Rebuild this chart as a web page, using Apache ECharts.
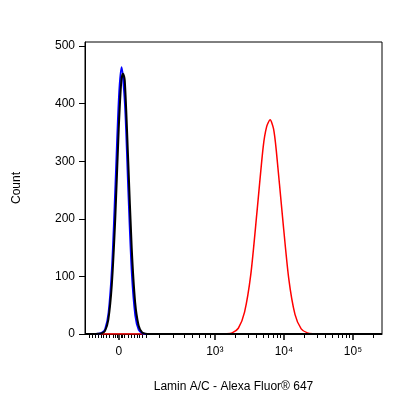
<!DOCTYPE html>
<html><head><meta charset="utf-8">
<script src="https://cdn.jsdelivr.net/npm/echarts@6/dist/echarts.min.js"></script>
<style>html,body{margin:0;padding:0;background:#fff}#c{width:416px;height:416px}</style>
</head><body><div id="c"></div>
<script>
// x in display (decade) units: 10^3 at 3, 10^4 at 4, 10^5 at 5; "0" at 1.61
const xTickVals = [1.61, 3, 4, 5];
const xTickLabels = ['0', '10³', '10⁴', '10⁵'];
const xMinorTicks = [1.18,1.22,1.27,1.31,1.35,1.39,1.43,1.47,1.53,1.56,1.58,1.64,1.66,1.69,1.75,1.79,1.83,1.87,1.91,1.95,2.0,2.2,2.4,2.55,2.68,2.78,2.86,2.93,
  3.30,3.48,3.60,3.70,3.78,3.85,3.90,3.95, 4.30,4.48,4.60,4.70,4.78,4.85,4.90,4.95, 5.30];
const yTicks = [0,100,200,300,400,500];

const blueX = [1.12,1.25,1.312,1.362,1.412,1.462,1.512,1.562,1.612,1.649,1.699,1.749,1.799,1.849,1.899,1.949,1.999,2.05,5.42];
const blueY = [0,0,0.5,2,8,37,117,260,411,463,399,245,105,32,7,1.5,0,0,0];
const blackX = [1.12,1.25,1.308,1.358,1.408,1.458,1.508,1.558,1.608,1.646,1.671,1.696,1.746,1.796,1.846,1.896,1.946,1.996,2.046,2.1,5.42];
const blackY = [0,0,0.3,1,5,25,85,200,355,440,452,440,300,150,55,15,3,0.5,0,0,0];
const redX = [1.12,3.07,3.16,3.25,3.34,3.43,3.52,3.61,3.70,3.75,3.80,3.85,3.89,3.98,4.07,4.16,4.25,4.34,4.43,4.52,5.42];
const redY = [0,0,0.4,2,10,38,103,212,325,360,372,356,318,203,96,34,9,2,0.4,0,0];

const zip = (a,b)=>a.map((v,i)=>[v,b[i]]);
const chart = echarts.init(document.getElementById('c'));
const font = 'Liberation Sans, Arial, sans-serif';
chart.setOption({
  animation:false,
  grid:{left:85,right:34,top:42,bottom:82,show:true,borderColor:'#000',borderWidth:1,backgroundColor:'transparent'},
  xAxis:[{type:'value',min:1.12,max:5.42,
    name:'Lamin A/C - Alexa Fluor® 647',nameLocation:'middle',nameGap:47,
    nameTextStyle:{color:'#000',fontSize:12,fontFamily:font},
    axisLine:{lineStyle:{color:'#000'}},splitLine:{show:false},
    axisTick:{customValues:xTickVals,length:6,lineStyle:{color:'#000',width:1.5}},
    axisLabel:{customValues:xTickVals,color:'#000',fontSize:12,fontFamily:font,margin:12,
      formatter:v=>{const i=xTickVals.findIndex(t=>Math.abs(t-v)<1e-6);return i>=0?xTickLabels[i]:'';}}},
   {type:'value',min:1.12,max:5.42,position:'bottom',
    axisLine:{show:false},splitLine:{show:false},axisLabel:{show:false},
    axisTick:{customValues:xMinorTicks,length:4,lineStyle:{color:'#000'}}}],
  yAxis:{type:'value',min:0,max:507,
    name:'Count',nameLocation:'middle',nameGap:62,nameRotate:90,
    nameTextStyle:{color:'#000',fontSize:12,fontFamily:font},
    axisLine:{show:true,lineStyle:{color:'#000'}},splitLine:{show:false},
    axisTick:{customValues:yTicks,length:6,lineStyle:{color:'#000'}},
    axisLabel:{customValues:yTicks,color:'#000',fontSize:12,fontFamily:font,margin:10}},
  series:[
    {type:'line',data:zip(redX,redY),smooth:0.25,showSymbol:false,lineStyle:{color:'#ff0000',width:1.5}},
    {type:'line',data:zip(blueX,blueY),smooth:0.3,showSymbol:false,lineStyle:{color:'#0000ff',width:2}},
    {type:'line',data:zip(blackX,blackY),smooth:0.3,showSymbol:false,lineStyle:{color:'#000',width:2}}
  ]
});
</script></body></html>
